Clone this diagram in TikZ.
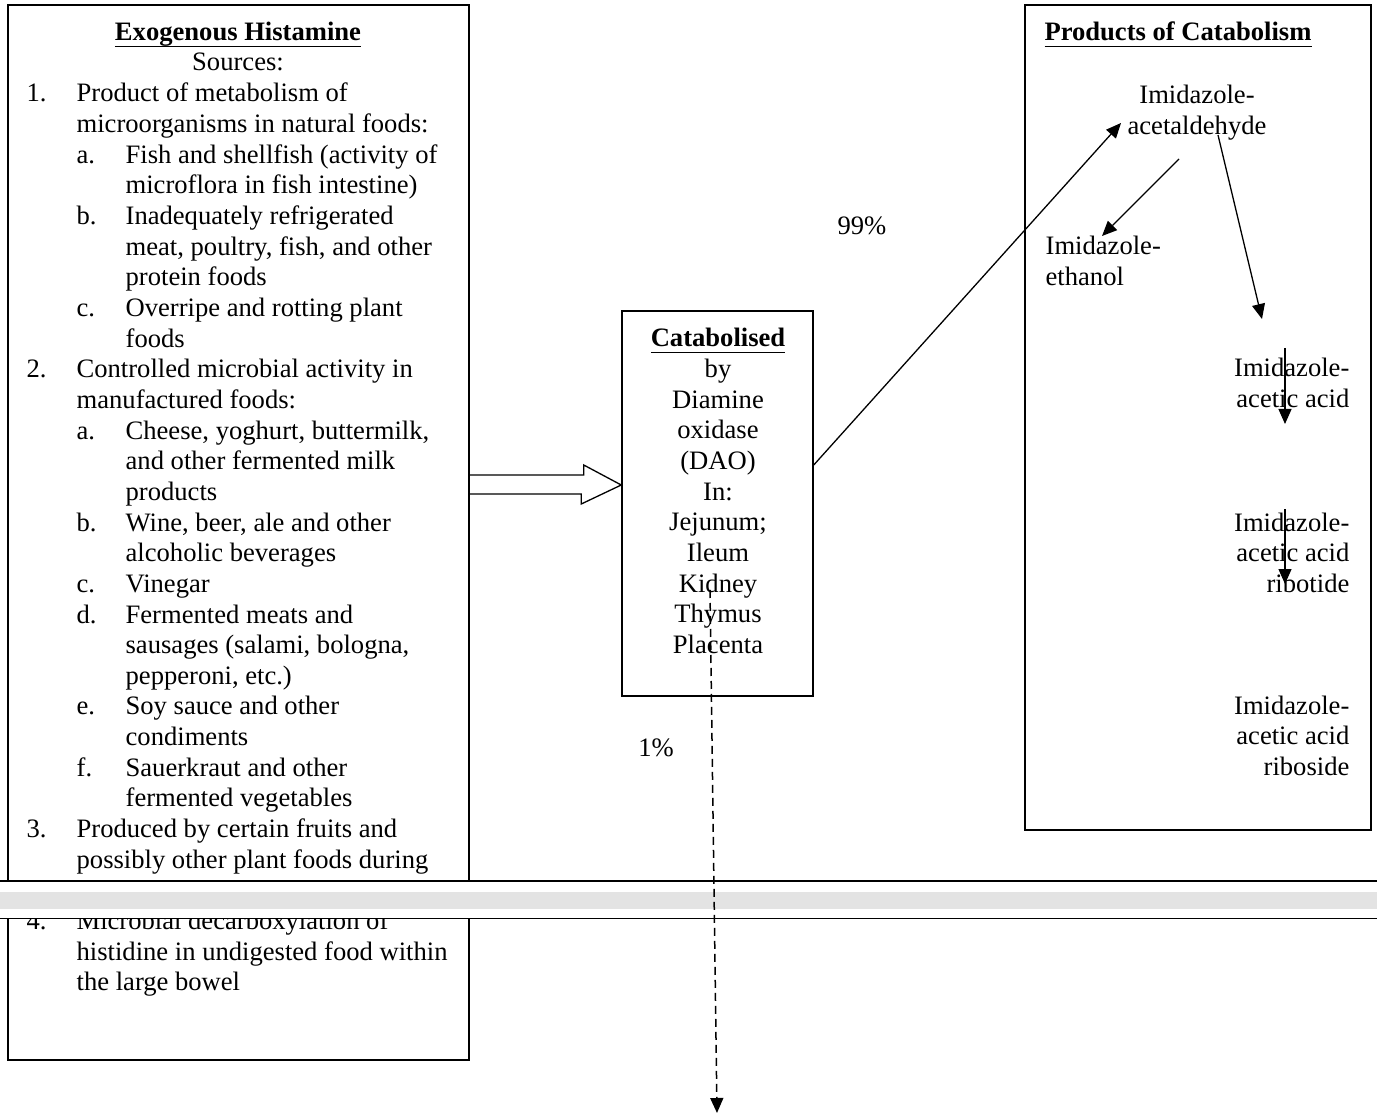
\documentclass[tikz,border=0pt]{standalone}
\usepackage{fontspec}
\setmainfont{Liberation Serif}
\usetikzlibrary{arrows.meta}
\tikzstyle{every picture}=[x=1pt,y=-1pt,line width=1.3pt,>={Triangle[length=15pt,width=13pt]}]
\tikzstyle{box}=[draw,line width=1.5pt,inner sep=0pt]
\tikzstyle{txt}=[inner sep=0pt,font=\fontsize{26.6}{30.65}\selectfont]
\tikzstyle{dashedarrow}=[->,line width=1.5pt,dash pattern=on 8pt off 5pt]
\newcommand{\hdline}[1]{\setbox0\hbox{\textbf{#1}}\rlap{\vrule width\wd0 height -4.8pt depth 6.2pt}\box0}
\newcommand{\numlbl}[1]{\makebox[50pt][l]{#1}}
\newcommand{\sublbl}[1]{\makebox[49pt][l]{#1}}
\newcommand{\wide}[1]{\multicolumn{2}{@{}l@{}}{#1}}

\begin{document}
\begin{tikzpicture}
\useasboundingbox (0,0) rectangle (1377,1115);

% boxes
\node[box,minimum width=461pt,minimum height=1055pt] (exo) at (238.5,532.5) {};
\node[box,minimum width=191pt,minimum height=385pt] (cat) at (717.5,503.5) {};
\node[box,minimum width=346pt,minimum height=825pt] (prod) at (1198,417.5) {};

% exogenous histamine
\node[txt,anchor=base] (exotitle) at (238,41) {\hdline{Exogenous Histamine}};
\node[txt,anchor=base] (sources) at (238,71) {Sources:};
\node[txt,anchor=base west] (srclist) at (26,102) {%
\begin{tabular}[t]{@{}l@{}l@{}l@{}}
\numlbl{1.} & \wide{Product of metabolism of}\\
 & \wide{microorganisms in natural foods:}\\
 & \sublbl{a.} & Fish and shellfish (activity of\\
 & & microflora in fish intestine)\\
 & \sublbl{b.} & Inadequately refrigerated\\
 & & meat, poultry, fish, and other\\
 & & protein foods\\
 & \sublbl{c.} & Overripe and rotting plant\\
 & & foods\\
\numlbl{2.} & \wide{Controlled microbial activity in}\\
 & \wide{manufactured foods:}\\
 & \sublbl{a.} & Cheese, yoghurt, buttermilk,\\
 & & and other fermented milk\\
 & & products\\
 & \sublbl{b.} & Wine, beer, ale and other\\
 & & alcoholic beverages\\
 & \sublbl{c.} & Vinegar\\
 & \sublbl{d.} & Fermented meats and\\
 & & sausages (salami, bologna,\\
 & & pepperoni, etc.)\\
 & \sublbl{e.} & Soy sauce and other\\
 & & condiments\\
 & \sublbl{f.} & Sauerkraut and other\\
 & & fermented vegetables\\
\numlbl{3.} & \wide{Produced by certain fruits and}\\
 & \wide{possibly other plant foods during}\\
 & & \\
\numlbl{4.} & \wide{Microbial decarboxylation of}\\
 & \wide{histidine in undigested food within}\\
 & \wide{the large bowel}\\
\end{tabular}};

% catabolised
\node[txt,anchor=base] (cattext) at (718,347) {%
\begin{tabular}[t]{@{}c@{}}
\hdline{Catabolised}\\ by\\ Diamine\\ oxidase\\ (DAO)\\ In:\\ Jejunum;\\ Ileum\\ Kidney\\ Thymus\\ Placenta
\end{tabular}};

% products
\node[txt,anchor=base] (prodtitle) at (1178,41) {\hdline{Products of Catabolism}};
\node[txt,anchor=base] (acetald) at (1197,104) {%
\begin{tabular}[t]{@{}c@{}}Imidazole-\\ acetaldehyde\end{tabular}};
\node[txt,anchor=base west] (ethanol) at (1045,254.5) {%
\begin{tabular}[t]{@{}l@{}}Imidazole-\\ ethanol\end{tabular}};
\node[txt,anchor=base east] (acetic) at (1350,377) {%
\begin{tabular}[t]{@{}r@{}}Imidazole-\\ acetic acid\end{tabular}};
\node[txt,anchor=base east] (ribotide) at (1350,531) {%
\begin{tabular}[t]{@{}r@{}}Imidazole-\\ acetic acid\\ ribotide\end{tabular}};
\node[txt,anchor=base east] (riboside) at (1350,714) {%
\begin{tabular}[t]{@{}r@{}}Imidazole-\\ acetic acid\\ riboside\end{tabular}};

\node[txt] (p99) at (862,226) {99\%};
\node[txt] (p1) at (656,748) {1\%};

% arrow ends
\coordinate (aldin) at (1121,123);
\coordinate (aldout1) at (1179,159);
\coordinate (ethin) at (1102,236);
\coordinate (aldout2) at (1218,135);
\coordinate (acidin) at (1262,319);
\coordinate (acidout) at (1285,348);
\coordinate (acidend) at (1285,424);
\coordinate (ribout) at (1285,509);
\coordinate (ribend) at (1285,584);
\coordinate (kidney) at (710,590);
\coordinate (excreted) at (717,1113);

% connectors
\draw (exo.east |- 0,475) -- ++(114,0) -- ++(0,-10) -- (cat.west |- 0,485)
      -- ++(-40,19) -- ++(0,-10) -- (exo.east |- 0,494);
\draw[->] (cat.east |- 0,465) -- (aldin);
\draw[->] (aldout1) -- (ethin);
\draw[->] (aldout2) -- (acidin);
\draw[->] (acidout) -- (acidend);
\draw[->] (ribout) -- (ribend);

% page break
\fill[white] (0,881) rectangle (1377,918);
\fill[black!11] (0,891.7) rectangle (1377,909);
\draw[line width=1.8pt] (0,880.7) -- (1377,880.7);
\draw[line width=1.8pt] (0,918.5) -- (1377,918.5);

\draw[dashedarrow] (kidney) -- (excreted);
\end{tikzpicture}
\end{document}
